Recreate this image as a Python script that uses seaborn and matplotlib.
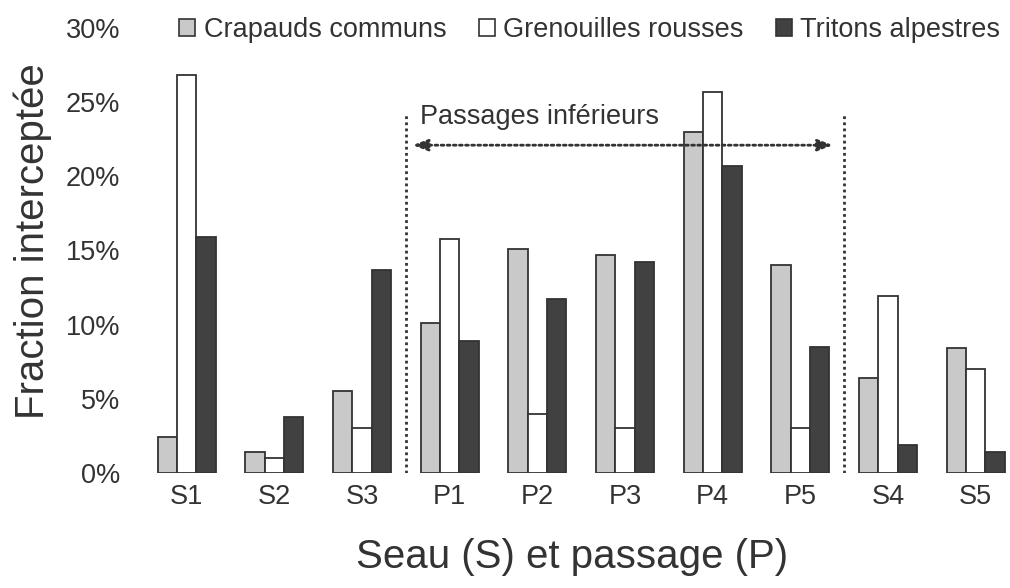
import matplotlib
matplotlib.use("Agg")
import matplotlib.pyplot as plt
from matplotlib.patches import Patch
import pandas as pd
import seaborn as sns

# données (%)
sites = ["S1", "S2", "S3", "P1", "P2", "P3", "P4", "P5", "S4", "S5"]
species = ["Crapauds communs", "Grenouilles rousses", "Tritons alpestres"]
crapauds = [2.4, 1.4, 5.5, 10.1, 15.1, 14.7, 23.0, 14.0, 6.4, 8.4]
grenouilles = [26.8, 1.0, 3.0, 15.8, 4.0, 3.0, 25.7, 3.0, 11.9, 7.0]
tritons = [15.9, 3.8, 13.7, 8.9, 11.7, 14.2, 20.7, 8.5, 1.9, 1.4]
yticks = [0, 5, 10, 15, 20, 25, 30]

df = pd.DataFrame({"site": sites * 3,
                   "espece": [s for s in species for _ in sites],
                   "frac": crapauds + grenouilles + tritons})

colors = {"Crapauds communs": "#c9c9c9",
          "Grenouilles rousses": "#ffffff",
          "Tritons alpestres": "#414141"}
ink = "#333333"

sns.set_style("white")
plt.rcParams["font.family"] = ["Liberation Sans", "DejaVu Sans"]
plt.rcParams["text.color"] = ink

fig = plt.figure(figsize=(10.1, 5.88), dpi=100)
ax = fig.add_axes([0.1327, 0.1956, 0.868, 0.7568])

sns.barplot(data=df, x="site", y="frac", hue="espece", order=sites,
            hue_order=species, palette=colors, width=0.66,
            edgecolor=ink, linewidth=1.3, saturation=1, ax=ax, legend=False)

ax.set_xlim(-0.6, 9.4)
ax.set_ylim(0, 30)
ax.set_yticks(yticks)
ax.set_yticklabels([f"{t}%" for t in yticks])
for s in ax.spines.values():
    s.set_visible(False)
ax.tick_params(axis="y", length=0, pad=10, labelsize=19.5, labelcolor=ink)
ax.tick_params(axis="x", length=0, pad=8, labelsize=19.5, labelcolor=ink)

ax.set_xlabel("Seau (S) et passage (P)", fontsize=29, color=ink)
ax.set_ylabel("Fraction interceptée", fontsize=29, color=ink)
ax.xaxis.set_label_coords(0.5, -0.145)
ax.yaxis.set_label_coords(-0.094, 0.52)

# zone des passages inférieurs
ax.vlines([2.5, 7.5], 0, 24.3, colors=ink, linestyles=(0, (1, 1.2)), linewidth=2)
ax.annotate("", xy=(2.58, 22.1), xytext=(7.37, 22.1),
            arrowprops=dict(arrowstyle="<|-|>,head_length=0.9,head_width=0.35",
                            color=ink, linestyle=(0, (1, 1.2)), linewidth=2,
                            shrinkA=0, shrinkB=0))
ax.text(2.66, 24.0, "Passages inférieurs", fontsize=19.5, color=ink,
        ha="left", va="center")

handles = [Patch(facecolor=colors[s], edgecolor=ink, linewidth=1.2) for s in species]
fig.legend(handles, species, loc="upper left", bbox_to_anchor=(0.172, 0.98),
           ncol=3, frameon=False, fontsize=19.5, handlelength=0.6,
           handleheight=0.6, handletextpad=0.3, columnspacing=1.2,
           borderpad=0.2, borderaxespad=0)

fig.savefig("out.png", dpi=100, facecolor="white")
